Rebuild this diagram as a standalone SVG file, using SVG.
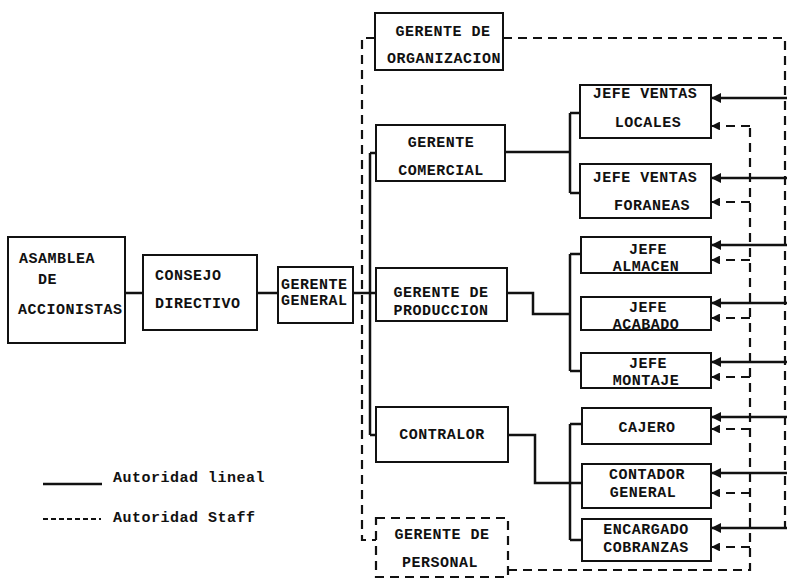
<svg xmlns="http://www.w3.org/2000/svg" width="787" height="579" viewBox="0 0 787 579">
<style>
.box{fill:#fff;stroke:#111;stroke-width:2}
.dbox{fill:#fff;stroke:#111;stroke-width:2.2;stroke-dasharray:9 6}
.t{font-family:"Liberation Mono","DejaVu Sans Mono",monospace;font-weight:bold;font-size:15px;fill:#111;letter-spacing:0.5px}
.c{text-anchor:middle}
.ln{fill:none;stroke:#111;stroke-width:2.5}
.st{fill:none;stroke:#111;stroke-width:2.2;stroke-dasharray:9 6}
</style>
<defs>
<marker id="ah" viewBox="0 0 10 10" refX="9" refY="5" markerWidth="4" markerHeight="4" orient="auto" markerUnits="strokeWidth">
<path d="M0,0 L10,5 L0,10 z" fill="#111"/>
</marker>
</defs>
<rect width="787" height="579" fill="#fff"/>
<g id="connectors">
<path class="ln" d="M125,293 H143 M257,293 H278 M353,293 H370 M370,153 V435 M370,153 H376 M370,293 H376 M370,435 H376"/>
<path class="st" d="M375,38 H362 V540 H376"/>
<path class="st" d="M503,38 H785 V529"/>
<path class="st" d="M508,570 H750 V126"/>
<path class="ln" d="M505,152 H570 M570,113 V193 M570,113 H580 M570,193 H580"/>
<path class="ln" d="M507,293 H533 V314 H570 M570,254 V371 M570,254 H581 M570,371 H581"/>
<path class="ln" d="M508,435 H535 V483 H582 M570,424 V540 M570,424 H582 M570,540 H582"/>
<g class="ln" marker-end="url(#ah)">
<path d="M787,98 H712"/>
<path d="M787,178 H712"/>
<path d="M787,245 H712"/>
<path d="M787,303 H712"/>
<path d="M787,362 H712"/>
<path d="M787,417 H712"/>
<path d="M787,473 H712"/>
<path d="M787,528 H712"/>
</g>
<g class="st" marker-end="url(#ah)">
<path d="M750,126 H712"/>
<path d="M750,202 H712"/>
<path d="M750,260 H712"/>
<path d="M750,318 H712"/>
<path d="M750,377 H712"/>
<path d="M750,429 H712"/>
<path d="M750,493 H712"/>
<path d="M750,547 H712"/>
</g>
</g>
<g id="asamblea"><rect class="box" x="8" y="237" width="117" height="106"/>
<text class="t" x="19" y="263">ASAMBLEA</text><text class="t" x="38" y="284">DE</text><text class="t" x="18" y="314">ACCIONISTAS</text></g>
<g id="consejo"><rect class="box" x="143" y="255" width="114" height="75"/>
<text class="t" x="155" y="280">CONSEJO</text><text class="t" x="155" y="308">DIRECTIVO</text></g>
<g id="gerente-general"><rect class="box" x="278" y="267" width="75" height="56"/>
<text class="t" x="281" y="289">GERENTE</text><text class="t" x="281" y="305">GENERAL</text></g>
<g id="gerente-organizacion"><rect class="box" x="375" y="13" width="128" height="57"/>
<text class="t c" x="443" y="36">GERENTE DE</text><text class="t c" x="444" y="63">ORGANIZACION</text></g>
<g id="gerente-comercial"><rect class="box" x="376" y="125" width="129" height="56"/>
<text class="t c" x="441" y="147">GERENTE</text><text class="t c" x="441" y="175">COMERCIAL</text></g>
<g id="gerente-produccion"><rect class="box" x="376" y="268" width="131" height="53"/>
<text class="t c" x="441" y="297">GERENTE DE</text><text class="t c" x="441" y="315">PRODUCCION</text></g>
<g id="contralor"><rect class="box" x="376" y="407" width="132" height="55"/>
<text class="t c" x="442" y="439">CONTRALOR</text></g>
<g id="gerente-personal"><rect class="dbox" x="376" y="518" width="132" height="59"/>
<text class="t c" x="442" y="539">GERENTE DE</text><text class="t c" x="440" y="567">PERSONAL</text></g>
<g id="jefe-ventas-locales"><rect class="box" x="580" y="85" width="131" height="53"/>
<text class="t c" x="645" y="98">JEFE VENTAS</text><text class="t c" x="648" y="127">LOCALES</text></g>
<g id="jefe-ventas-foraneas"><rect class="box" x="580" y="164" width="131" height="54"/>
<text class="t c" x="645" y="182">JEFE VENTAS</text><text class="t c" x="652" y="210">FORANEAS</text></g>
<g id="jefe-almacen"><rect class="box" x="581" y="237" width="130" height="36"/>
<text class="t c" x="648" y="254">JEFE</text><text class="t c" x="646" y="271">ALMACEN</text></g>
<g id="jefe-acabado"><rect class="box" x="581" y="297" width="130" height="33"/>
<text class="t c" x="648" y="312">JEFE</text><text class="t c" x="646" y="329">ACABADO</text></g>
<g id="jefe-montaje"><rect class="box" x="581" y="353" width="130" height="35"/>
<text class="t c" x="648" y="368">JEFE</text><text class="t c" x="646" y="385">MONTAJE</text></g>
<g id="cajero"><rect class="box" x="582" y="408" width="129" height="36"/>
<text class="t c" x="647" y="432">CAJERO</text></g>
<g id="contador-general"><rect class="box" x="582" y="464" width="129" height="44"/>
<text class="t c" x="647" y="479">CONTADOR</text><text class="t c" x="643" y="497">GENERAL</text></g>
<g id="encargado-cobranzas"><rect class="box" x="582" y="519" width="129" height="42"/>
<text class="t c" x="646" y="534">ENCARGADO</text><text class="t c" x="646" y="552">COBRANZAS</text></g>
<g id="legend">
<path class="ln" d="M43,484 H102"/>
<text class="t" x="113" y="482">Autoridad lineal</text>
<path d="M43,519 H101" fill="none" stroke="#111" stroke-width="2" stroke-dasharray="5 3"/>
<text class="t" x="113" y="522">Autoridad Staff</text>
</g>
</svg>
